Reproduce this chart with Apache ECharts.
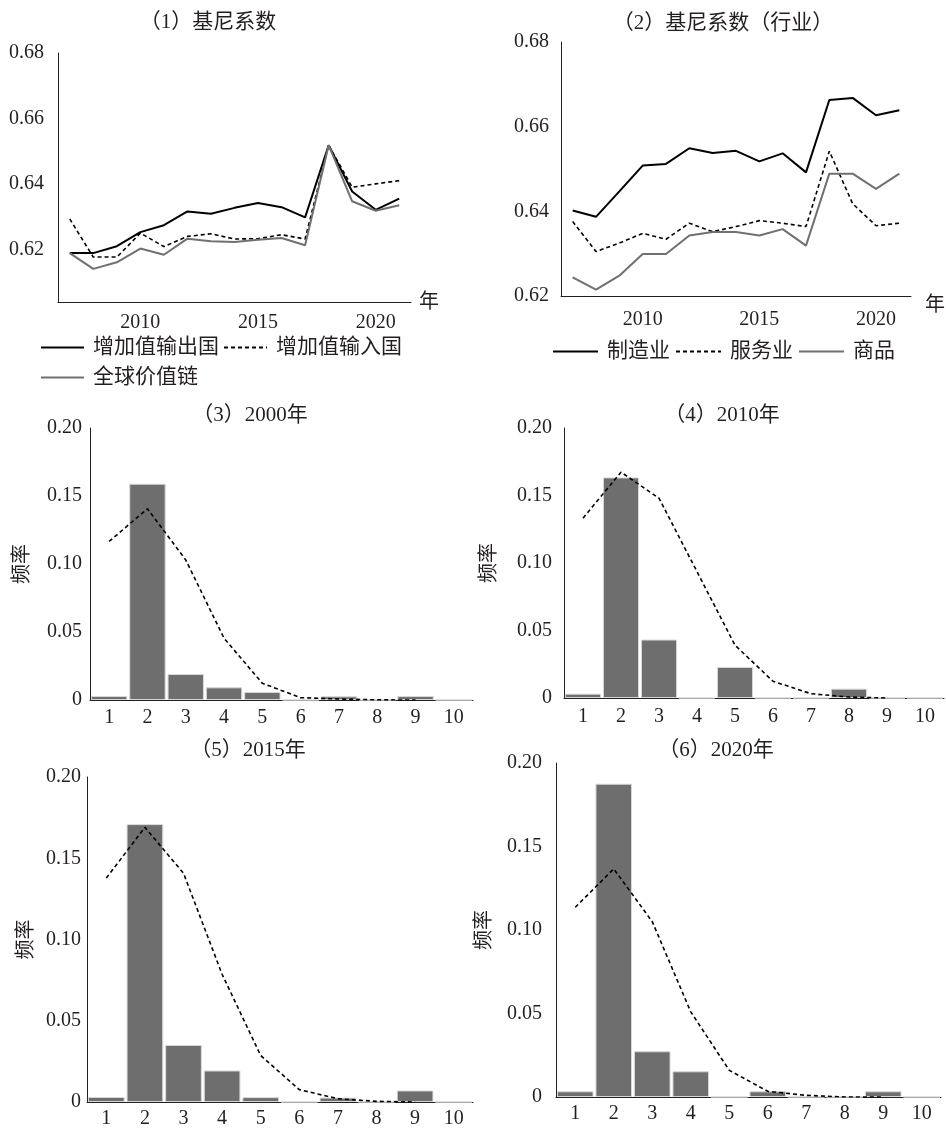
<!DOCTYPE html>
<html><head><meta charset="utf-8">
<script src="https://cdn.jsdelivr.net/npm/echarts@6/dist/echarts.min.js"></script>
<style>html,body{margin:0;padding:0;background:#fff}#c{width:946px;height:1129px}</style>
</head><body><div id="c"></div>
<script>
// ---- data ----
const years = ['2007','2008','2009','2010','2011','2012','2013','2014','2015','2016','2017','2018','2019','2020','2021'];
const exportGini = [0.6190,0.6190,0.6211,0.6254,0.6275,0.6317,0.6310,0.6328,0.6343,0.6330,0.6299,0.6519,0.6378,0.6322,0.6356];
const importGini = [0.6294,0.6178,0.6178,0.6251,0.6210,0.6241,0.6249,0.6233,0.6234,0.6246,0.6233,0.6519,0.6391,0.6401,0.6411];
const gvcGini    = [0.6190,0.6142,0.6162,0.6204,0.6185,0.6234,0.6226,0.6224,0.6231,0.6236,0.6214,0.6519,0.6348,0.6319,0.6336];
const manuGini    = [0.6402,0.6387,0.6447,0.6508,0.6512,0.6549,0.6538,0.6543,0.6518,0.6537,0.6492,0.6663,0.6668,0.6627,0.6639];
const serviceGini = [0.6376,0.6305,0.6325,0.6348,0.6334,0.6372,0.6352,0.6364,0.6378,0.6372,0.6364,0.6542,0.6418,0.6366,0.6372];
const goodsGini   = [0.6244,0.6215,0.6248,0.6299,0.6299,0.6343,0.6351,0.6351,0.6343,0.6358,0.6319,0.6489,0.6489,0.6453,0.6489];
const giniLabels1 = [0.62,0.64,0.66,0.68];
const giniTicks1 = [0.6294,0.6547,0.68];
const bins = ['1','2','3','4','5','6','7','8','9','10'];
const bars2000  = [0.0029,0.1590,0.0191,0.0093,0.0059,0,0.0027,0,0.0029,0];
const curve2000 = [0.1166,0.1406,0.1030,0.0454,0.0123,0.0017,0.0007,0.0001,0,null];
const bars2010  = [0.0032,0.1634,0.0433,0,0.0230,0,0,0.0069,0,0];
const curve2010 = [0.1332,0.1673,0.1480,0.0936,0.0391,0.0124,0.0032,0.0007,0,null];
const bars2015  = [0.0031,0.1710,0.0351,0.0194,0.0030,0,0.0027,0,0.0071,0];
const curve2015 = [0.1378,0.1690,0.1408,0.0786,0.0286,0.0076,0.0020,0.0004,0,null];
const bars2020  = [0.0034,0.1876,0.0274,0.0154,0,0.0034,0,0,0.0034,0];
const curve2020 = [0.1136,0.1366,0.1050,0.0510,0.0160,0.0034,0.0010,0,0,null];

// ---- styles ----
const FONT = "'Liberation Serif','Noto Sans CJK SC',serif";
const INK = '#231f20';
const GRAY = '#707070';
const BARC = '#6e6e6e';
const txt = (s) => Object.assign({color: INK, fontFamily: FONT, fontSize: 20}, s || {});
const axLine = {show: true, lineStyle: {color: INK, width: 1}};

const grids = [
  {left: 58, top: 53, width: 353, height: 249},
  {left: 561, top: 42, width: 355, height: 254},
  {left: 90, top: 428, width: 383, height: 272},
  {left: 564, top: 428, width: 380, height: 270},
  {left: 87, top: 777, width: 386, height: 326},
  {left: 556, top: 763, width: 385, height: 334}
];

const xAxes = [
  {gridIndex: 0, type: 'category', data: years, axisLine: axLine,
   axisTick: {inside: true, length: 10, lineStyle: {color: INK}},
   axisLabel: Object.assign(txt(), {interval: (i, v) => (+v) % 5 === 0, margin: 11}),
   name: '年', nameLocation: 'end', nameGap: 8, nameTextStyle: txt({verticalAlign: 'top', lineHeight: 2})},
  {gridIndex: 1, type: 'category', data: years, axisLine: axLine,
   axisTick: {inside: true, length: 10, lineStyle: {color: INK}},
   axisLabel: Object.assign(txt(), {interval: (i, v) => (+v) % 5 === 0, margin: 14}),
   name: '年', nameLocation: 'end', nameGap: 14, nameTextStyle: txt({verticalAlign: 'top'})}
];
const histMargins = [8, 9, 7, 7];
for (let k = 0; k < 4; k++) {
  xAxes.push({gridIndex: k + 2, type: 'category', data: bins, axisLine: axLine,
    axisTick: {inside: true, length: 8, lineStyle: {color: INK}},
    axisLabel: Object.assign(txt(), {margin: histMargins[k]})});
}

const yAxes = [
  {gridIndex: 0, type: 'value', min: 0.6041, max: 0.68, axisLine: axLine, splitLine: {show: false},
   axisTick: {inside: true, length: 9, lineStyle: {color: INK}, customValues: giniTicks1},
   axisLabel: Object.assign(txt(), {customValues: giniLabels1, formatter: v => v.toFixed(2), margin: 14})},
  {gridIndex: 1, type: 'value', min: 0.62, max: 0.68, interval: 0.02, axisLine: axLine, splitLine: {show: false},
   axisTick: {inside: true, length: 8, lineStyle: {color: INK}},
   axisLabel: Object.assign(txt(), {formatter: v => v.toFixed(2), margin: 12})}
];
const yLabMargins = [8, 12, 6, 14];
const yNameGaps = [57, 64, 50, 61];
for (let k = 0; k < 4; k++) {
  yAxes.push({gridIndex: k + 2, type: 'value', min: 0, max: 0.2, interval: 0.05, axisLine: axLine,
    splitLine: {show: false},
    axisTick: {inside: true, length: 9, lineStyle: {color: INK}},
    axisLabel: Object.assign(txt(), {formatter: v => v === 0 ? '0' : v.toFixed(2), margin: yLabMargins[k]}),
    name: '频率', nameLocation: 'middle', nameRotate: 90, nameGap: yNameGaps[k], nameTextStyle: txt()});
}

const lineS = (name, data, xi, color, width, type) => ({
  name, type: 'line', data, xAxisIndex: xi, yAxisIndex: xi, symbol: 'none', silent: true,
  lineStyle: {color, width, type: type || 'solid'}, itemStyle: {color}
});
const series = [
  lineS('增加值输出国', exportGini, 0, '#000', 2),
  lineS('增加值输入国', importGini, 0, '#000', 1.6, [4, 3]),
  lineS('全球价值链', gvcGini, 0, GRAY, 2),
  lineS('制造业', manuGini, 1, '#000', 2),
  lineS('服务业', serviceGini, 1, '#000', 1.6, [4, 3]),
  lineS('商品', goodsGini, 1, GRAY, 2)
];
const histBars = [bars2000, bars2010, bars2015, bars2020];
const histCurves = [curve2000, curve2010, curve2015, curve2020];
for (let k = 0; k < 4; k++) {
  series.push({type: 'bar', data: histBars[k], xAxisIndex: k + 2, yAxisIndex: k + 2, silent: true,
    barCategoryGap: '5%', itemStyle: {color: BARC, borderColor: '#d8d8d8', borderWidth: 1}});
  series.push({type: 'line', data: histCurves[k], xAxisIndex: k + 2, yAxisIndex: k + 2, symbol: 'none',
    silent: true, z: 5, lineStyle: {color: '#000', width: 1.6, type: [4, 3]}});
}

const titles = [
  ['（1）基尼系数', 208, 12],
  ['（2）基尼系数（行业）', 723, 13],
  ['（3）2000年', 250, 405],
  ['（4）2010年', 722, 405],
  ['（5）2015年', 248, 740],
  ['（6）2020年', 716, 740]
].map(([text, left, top]) => ({text, left, top, textAlign: 'center', padding: 0,
  textStyle: txt({fontWeight: 'normal', fontSize: 21})}));

const legTxt = txt({padding: [0, 0, 0, 4], fontSize: 21});
const legBase = {padding: 0, itemWidth: 43, itemHeight: 14, selectedMode: false, textStyle: legTxt,
  itemStyle: {opacity: 0}};
const legend = [
  Object.assign({}, legBase, {data: ['增加值输出国', '增加值输入国'], left: 40, top: 337, itemGap: 4}),
  Object.assign({}, legBase, {data: ['全球价值链'], left: 40, top: 367}),
  Object.assign({}, legBase, {data: ['制造业', '服务业', '商品'], left: 552, top: 341, itemWidth: 45, itemGap: 5})
];

const chart = echarts.init(document.getElementById('c'), null, {renderer: 'canvas'});
chart.setOption({
  animation: false, backgroundColor: '#fff',
  title: titles, legend, grid: grids, xAxis: xAxes, yAxis: yAxes, series
});
</script></body></html>
